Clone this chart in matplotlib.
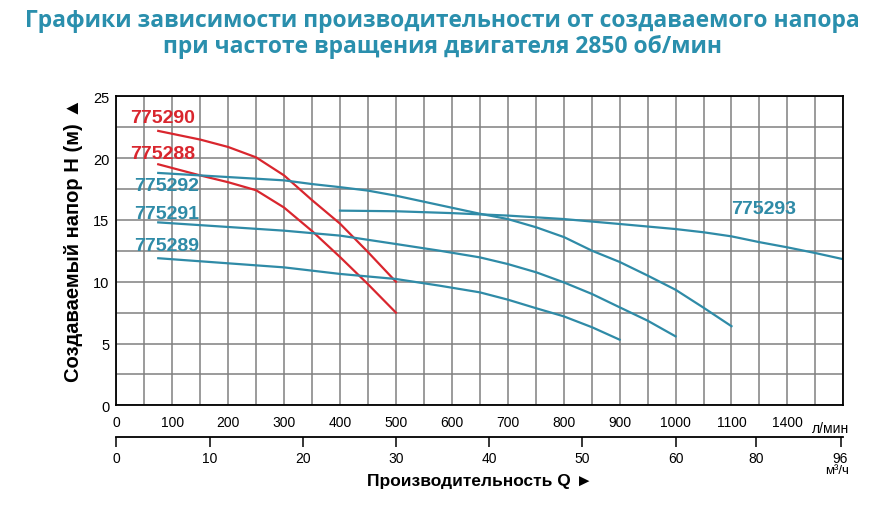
import matplotlib
matplotlib.use("Agg")
import matplotlib.pyplot as plt
import numpy as np

# flow in l/min, head in m
q_775290 = [75, 150, 200, 250, 300, 350, 400, 450, 500]
h_775290 = [22.2, 21.5, 20.9, 20.06, 18.6, 16.6, 14.7, 12.4, 10.0]

q_775288 = [75, 150, 200, 250, 300, 350, 400, 450, 500]
h_775288 = [19.5, 18.6, 18.05, 17.4, 16.0, 14.1, 12.0, 9.8, 7.5]

q_775292 = [75, 300, 350, 400, 450, 500, 578, 650, 700, 751, 801, 851, 900, 950, 1000, 1050, 1100]
h_775292 = [18.8, 18.2, 17.9, 17.65, 17.37, 16.96, 16.2, 15.5, 15.07, 14.4, 13.6, 12.5, 11.6, 10.5, 9.35, 7.9, 6.4]

q_775293 = [400, 500, 600, 700, 800, 900, 1000, 1050, 1100, 1150, 1200, 1250, 1298]
h_775293 = [15.75, 15.7, 15.55, 15.35, 15.07, 14.67, 14.26, 14.0, 13.67, 13.2, 12.78, 12.32, 11.84]

q_775291 = [75, 300, 400, 500, 578, 650, 700, 751, 800, 851, 900, 950, 1000]
h_775291 = [14.8, 14.13, 13.73, 13.05, 12.51, 11.97, 11.43, 10.76, 9.95, 9.0, 7.93, 6.85, 5.58]

q_775289 = [75, 300, 400, 500, 578, 650, 700, 751, 800, 851, 900]
h_775289 = [11.9, 11.16, 10.63, 10.22, 9.68, 9.14, 8.55, 7.85, 7.2, 6.31, 5.31]

lpm_ticks = [0, 100, 200, 300, 400, 500, 600, 700, 800, 900, 1000, 1100]
lpm_labels = ["0", "100", "200", "300", "400", "500", "600", "700", "800", "900", "1000", "1100"]
m3h_pos = [0, 166.7, 333.3, 500, 666.7, 833.3, 1000, 1144, 1295]
m3h_labels = ["0", "10", "20", "30", "40", "50", "60", "80", "96"]

red = "#d9262e"
teal = "#2f8ba7"
title_col = "#2a8fad"

fig = plt.figure(figsize=(8.85, 5.06), dpi=100, facecolor="white")
ax = fig.add_axes([0.1314, 0.197, 0.8215, 0.6107])

for q, h, c in [(q_775290, h_775290, red), (q_775288, h_775288, red),
                (q_775292, h_775292, teal), (q_775293, h_775293, teal),
                (q_775291, h_775291, teal), (q_775289, h_775289, teal)]:
    ax.plot(q, h, color=c, lw=1.6, zorder=3)

ax.set_xlim(0, 1300)
ax.set_ylim(0, 25)
ax.set_xticks(np.arange(0, 1301, 50), minor=True)
ax.set_yticks(np.arange(0, 25.1, 2.5), minor=True)
ax.set_yticks([0, 5, 10, 15, 20, 25])
ax.set_yticklabels(["0", "5", "10", "15", "20", "25"], fontsize=10.5, family="Liberation Sans")
ax.set_xticks(lpm_ticks)
ax.set_xticklabels(lpm_labels, fontsize=10, family="Liberation Sans")
ax.grid(True, which="both", color="#808080", lw=1.1)
ax.set_axisbelow(True)
ax.tick_params(which="both", length=0, pad=5)
ax.tick_params(axis="x", pad=7)
for s in ax.spines.values():
    s.set_color("black")
    s.set_linewidth(1.3)
    s.set_zorder(5)

ax.text(1200, -0.75, "1400", fontsize=10, family="Liberation Sans", ha="center", va="top")
ax.text(1278, -1.3, "л/мин", fontsize=10, family="Liberation Sans", ha="center", va="top",
        clip_on=False)

sec = ax.secondary_xaxis(-0.1026)
sec.set_xticks(m3h_pos)
sec.set_xticklabels(m3h_labels, fontsize=10, family="Liberation Sans")
sec.tick_params(length=7, width=1.1, pad=3)
sec.spines["bottom"].set_linewidth(1.3)
ax.text(1289, -5.25, "м³/ч", fontsize=9.5, family="Liberation Sans", ha="center", va="center")

label_font = dict(fontsize=14, fontweight="bold", family="Liberation Sans", zorder=4)
ax.text(24, 23.25, "775290", color=red, va="center", **label_font)
ax.text(24, 20.35, "775288", color=red, va="center", **label_font)
ax.text(31, 17.8, "775292", color=teal, va="center", **label_font)
ax.text(31, 15.55, "775291", color=teal, va="center", **label_font)
ax.text(31, 12.95, "775289", color=teal, va="center", **label_font)
ax.text(1100, 15.95, "775293", color=teal, va="center", **label_font)

fig.text(0.5, 0.958, "Графики зависимости производительности от создаваемого напора",
         ha="center", va="center", fontsize=16.5, fontweight="bold", family="Open Sans",
         color=title_col)
fig.text(0.5, 0.907, "при частоте вращения двигателя 2850 об/мин",
         ha="center", va="center", fontsize=16.5, fontweight="bold", family="Open Sans",
         color=title_col)

fig.text(0.0825, 0.525, "Создаваемый напор H (м) ▲", rotation=90, ha="center", va="center",
         fontsize=14.5, fontweight="bold", family=["Liberation Sans", "DejaVu Sans"])
fig.text(0.542, 0.049, "Производительность Q ►", ha="center", va="center",
         fontsize=12.5, fontweight="bold", family=["Liberation Sans", "DejaVu Sans"])

fig.savefig("out.png", dpi=100, facecolor="white")
